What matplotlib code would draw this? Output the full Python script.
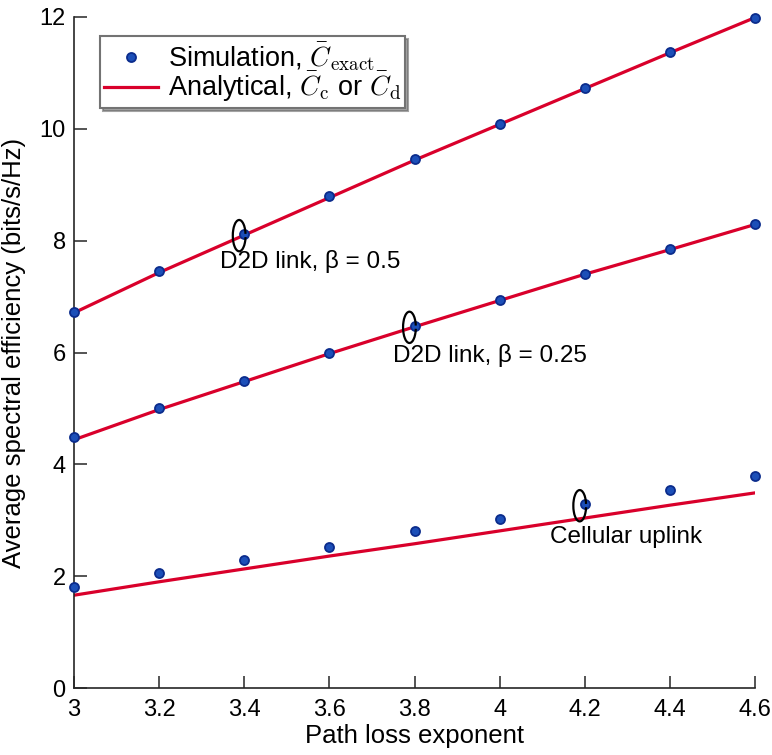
import numpy as np
import matplotlib
matplotlib.use("Agg")
import matplotlib.pyplot as plt
from matplotlib.patches import Arc

plt.rcParams['font.family'] = ['Liberation Sans', 'DejaVu Sans']
plt.rcParams['mathtext.fontset'] = 'cm'

# 路径损耗指数
alpha = [3.0, 3.2, 3.4, 3.6, 3.8, 4.0, 4.2, 4.4, 4.6]

# 仿真结果
sim_d2d_05 = [6.73, 7.46, 8.12, 8.80, 9.46, 10.09, 10.73, 11.38, 11.99]
sim_d2d_025 = [4.49, 5.01, 5.49, 5.99, 6.48, 6.94, 7.41, 7.85, 8.30]
sim_cell = [1.81, 2.06, 2.29, 2.52, 2.81, 3.02, 3.29, 3.54, 3.79]

# 解析结果
ana_d2d_05 = [6.71, 7.43, 8.10, 8.77, 9.44, 10.08, 10.72, 11.36, 11.99]
ana_d2d_025 = [4.44, 4.98, 5.48, 5.98, 6.46, 6.93, 7.40, 7.84, 8.29]
ana_cell = [1.66, 1.90, 2.13, 2.36, 2.58, 2.81, 3.04, 3.27, 3.49]

xticks = [3, 3.2, 3.4, 3.6, 3.8, 4, 4.2, 4.4, 4.6]
xticklabels = ['3', '3.2', '3.4', '3.6', '3.8', '4', '4.2', '4.4', '4.6']
yticks = [0, 2, 4, 6, 8, 10, 12]

red = '#d9002b'
blue_face = '#1c4fb8'
blue_edge = '#0b2c8c'

fig = plt.figure(figsize=(7.72, 7.55), dpi=100)
ax = fig.add_axes([0.0959, 0.0887, 0.8822, 0.8888])

for ana in (ana_d2d_05, ana_d2d_025, ana_cell):
    ax.plot(alpha, ana, '-', color=red, lw=2.3, zorder=2)
for sim in (sim_d2d_05, sim_d2d_025, sim_cell):
    ax.plot(alpha, sim, 'o', ms=6.5, mfc=blue_face, mec=blue_edge, mew=1.3,
            zorder=3, clip_on=False)

# 图例句柄
h_sim, = ax.plot([], [], 'o', ms=6.5, mfc=blue_face, mec=blue_edge, mew=1.3)
h_ana, = ax.plot([], [], '-', color=red, lw=2.3)
leg = ax.legend([h_sim, h_ana],
                [r'Simulation, $\bar{C}_{\mathrm{exact}}$',
                 r'Analytical, $\bar{C}_{\mathrm{c}}$ or $\bar{C}_{\mathrm{d}}$'],
                loc='upper left', bbox_to_anchor=(0.03, 0.98), fontsize=19.5,
                frameon=True, fancybox=False, shadow={'color': '0.4', 'alpha': 0.6},
                handlelength=2.0, handletextpad=0.35, borderpad=0.15,
                labelspacing=-0.1, borderaxespad=0.2)
leg.get_frame().set_edgecolor('0.45')
leg.get_frame().set_linewidth(1.5)

# 注释椭圆和文字
notes = [(3.4, sim_d2d_05[2], 'D2D link, β = 0.5', 3.343, 7.62),
         (3.8, sim_d2d_025[4], 'D2D link, β = 0.25', 3.75, 5.95),
         (4.2, sim_cell[6], 'Cellular uplink', 4.118, 2.70)]
for x, y, txt, tx, ty in notes:
    ax.add_patch(Arc((x - 0.012, y - 0.03), 0.03, 0.56, theta1=65, theta2=300,
                     color='black', lw=1.6, zorder=4))
    ax.text(tx, ty, txt, fontsize=17.5, ha='left', va='center', zorder=5)

ax.set_xlim(3, 4.6)
ax.set_ylim(0, 12)
ax.set_xticks(xticks)
ax.set_xticklabels(xticklabels)
ax.set_yticks(yticks)
ax.tick_params(direction='in', length=9, width=1.1, labelsize=17, colors='#262626',
               labelcolor='black')
ax.tick_params(axis='x', pad=8)
ax.tick_params(axis='y', pad=6)
for s in ('top', 'right'):
    ax.spines[s].set_visible(False)
for s in ('left', 'bottom'):
    ax.spines[s].set_color('#262626')
    ax.spines[s].set_linewidth(1.2)

ax.set_xlabel('Path loss exponent', fontsize=18.5, labelpad=2)
ax.set_ylabel('Average spectral efficiency (bits/s/Hz)', fontsize=18.5, labelpad=10)

fig.savefig('out.png', dpi=100)
